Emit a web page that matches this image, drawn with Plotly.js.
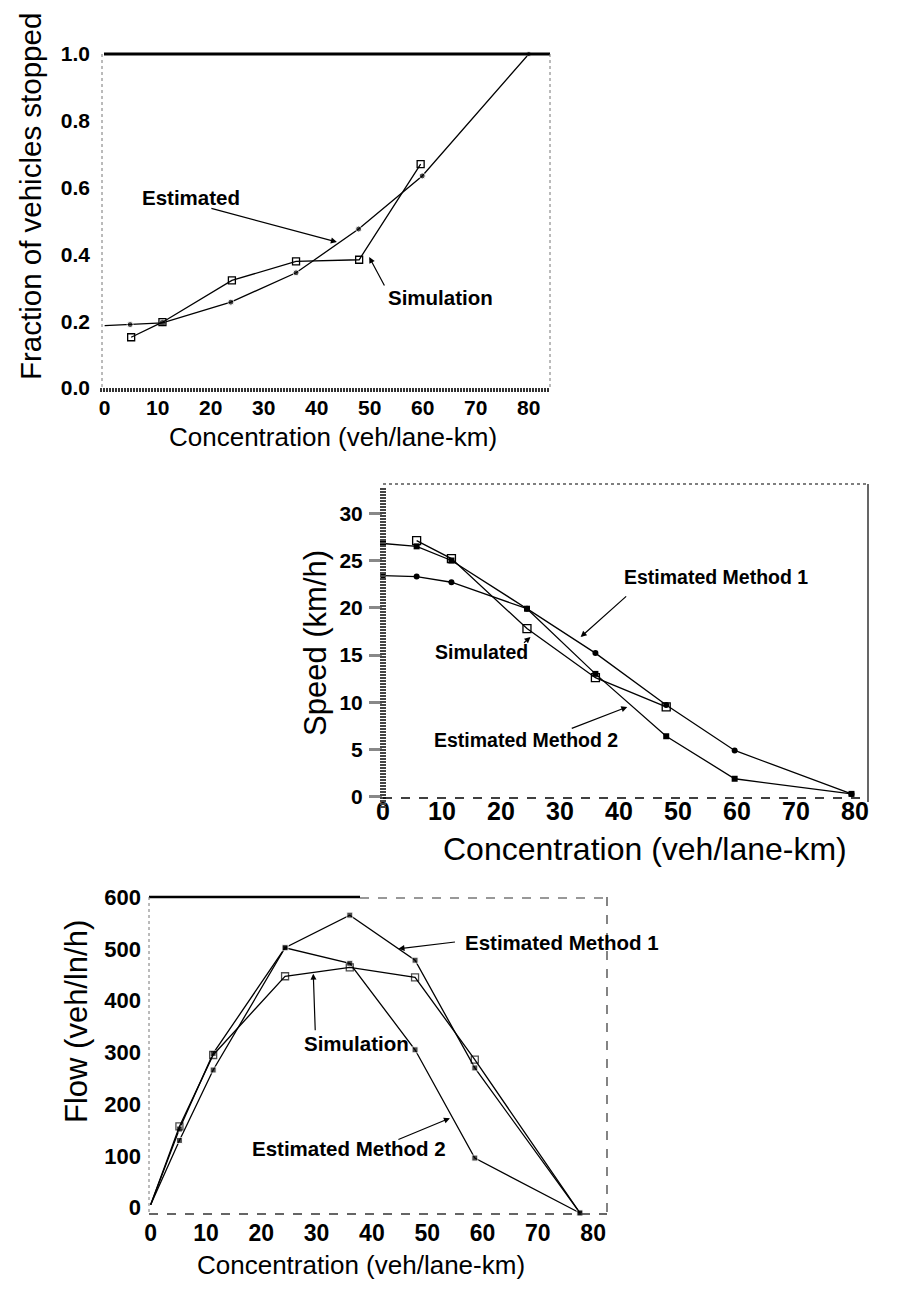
<!DOCTYPE html>
<html><head><meta charset="utf-8">
<script src="https://cdn.plot.ly/plotly-3.0.1.min.js"></script>
<style>html,body{margin:0;padding:0;background:#fff}#chart{width:919px;height:1292px}</style>
</head><body><div id="chart"></div>
<script>
// ---- Chart 1: fraction of vehicles stopped ----
const stopEstX = [0, 4.8, 10.9, 23.8, 36.1, 47.9, 59.9, 80];
const stopEstY = [0.187, 0.19, 0.195, 0.257, 0.345, 0.476, 0.635, 1.0];
const stopSimX = [5.0, 10.9, 24.0, 36.1, 48.0, 59.6];
const stopSimY = [0.152, 0.197, 0.322, 0.379, 0.384, 0.67];
// ---- Chart 2: speed ----
const speedX = [0, 5.7, 11.6, 24.4, 36, 48, 59.6, 79.4];
const speedM1 = [23.4, 23.3, 22.7, 19.9, 15.2, 9.7, 4.9, 0.3];
const speedM2 = [26.8, 26.5, 25.0, 19.9, 13.0, 6.4, 1.9, 0.3];
const speedSimX = [5.7, 11.6, 24.4, 36, 48];
const speedSim = [27.1, 25.2, 17.8, 12.6, 9.5];
// ---- Chart 3: flow ----
const flowX = [0, 5.2, 11.3, 24.3, 36, 47.8, 58.6, 77.6];
const flowM1 = [6, 130, 266, 502, 565, 478, 270, -10];
const flowM2 = [6, 152, 298, 502, 472, 305, 96, -10];
const flowSim = [6, 157, 295, 447, 464, 445, 286, -10];
// ---- ticks / labels ----
const concTicks = [0, 10, 20, 30, 40, 50, 60, 70, 80];
const fracTicks = [0, 0.2, 0.4, 0.6, 0.8, 1.0];
const speedTicks = [0, 5, 10, 15, 20, 25, 30];
const flowTicks = [0, 100, 200, 300, 400, 500, 600];
const xTitle = 'Concentration (veh/lane-km)';
const y1Title = 'Fraction of vehicles stopped';
const y2Title = 'Speed (km/h)';
const y3Title = 'Flow (veh/ln/h)';

const W = 919, H = 1292;
const PX = p => p / W, PY = p => 1 - p / H;
const FONT = 'Liberation Sans, Arial, sans-serif';
const BLK = '#000';

function line(x, y, opts) {
  return Object.assign({type: 'scatter', mode: 'lines+markers', x: x, y: y,
    line: {color: BLK, width: 1.3}, cliponaxis: false, hoverinfo: 'skip'}, opts);
}
const openSq = s => ({symbol: 'square-open', size: s, color: BLK, line: {width: 1.3, color: BLK}});
const fillSq = s => ({symbol: 'square', size: s, color: BLK});
const dot = s => ({symbol: 'circle', size: s, color: BLK});

const data = [
  line(stopEstX, stopEstY, {xaxis: 'x', yaxis: 'y', name: 'Estimated', marker: Object.assign(dot(6), {size: [0,6,7,6,6,6,6,5]})}),
  line(stopSimX, stopSimY, {xaxis: 'x', yaxis: 'y', name: 'Simulation', marker: openSq(7)}),
  line(speedX, speedM1, {xaxis: 'x2', yaxis: 'y2', name: 'Estimated Method 1', marker: dot(6)}),
  line(speedX, speedM2, {xaxis: 'x2', yaxis: 'y2', name: 'Estimated Method 2', marker: fillSq(6)}),
  line(speedSimX, speedSim, {xaxis: 'x2', yaxis: 'y2', name: 'Simulated', marker: openSq(8)}),
  line(flowX, flowM1, {xaxis: 'x3', yaxis: 'y3', name: 'Estimated Method 1', marker: Object.assign(fillSq(6), {size: [0,6,6,6,6,6,6,6]})}),
  line(flowX, flowM2, {xaxis: 'x3', yaxis: 'y3', name: 'Estimated Method 2', marker: Object.assign(fillSq(6), {size: [0,6,6,6,6,6,6,6]})}),
  line(flowX, flowSim, {xaxis: 'x3', yaxis: 'y3', name: 'Simulation', marker: Object.assign(openSq(7), {size: [0,7,7,7,7,7,7,0]})})
];

const baseAx = {showgrid: false, zeroline: false, showline: false, fixedrange: true, tickcolor: BLK};
const tf = s => ({family: FONT, size: s, weight: 'bold', color: BLK});

const layout = {
  width: W, height: H, margin: {l: 0, r: 0, t: 0, b: 0},
  paper_bgcolor: '#fff', plot_bgcolor: 'rgba(0,0,0,0)', showlegend: false,
  font: {family: FONT, color: BLK},
  xaxis: Object.assign({}, baseAx, {domain: [PX(102), PX(550)], range: [-0.5, 84], anchor: 'y',
    tickvals: concTicks, ticks: '', ticklabelstandoff: 3, tickfont: tf(21)}),
  yaxis: Object.assign({}, baseAx, {domain: [PY(390), PY(54)], range: [-0.006, 1.0], anchor: 'x',
    tickvals: fracTicks, tickformat: '.1f', ticks: '', ticklabelstandoff: 11, tickfont: tf(21)}),
  xaxis2: Object.assign({}, baseAx, {domain: [PX(383), PX(868)], range: [0, 82.2], anchor: 'y2',
    tickvals: concTicks, ticks: '', ticklabelstandoff: -8, tickfont: tf(25)}),
  yaxis2: Object.assign({}, baseAx, {domain: [PY(802), PY(484)], range: [-0.56, 33.1], anchor: 'x2',
    tickvals: speedTicks, ticks: 'outside', ticklen: 13, tickwidth: 3, tickcolor: '#888', ticklabelstandoff: 2,
    tickfont: tf(21)}),
  xaxis3: Object.assign({}, baseAx, {domain: [PX(149), PX(607)], range: [-0.3, 82.5], anchor: 'y3',
    tickvals: concTicks, ticks: '', ticklabelstandoff: 3, tickfont: tf(23)}),
  yaxis3: Object.assign({}, baseAx, {domain: [PY(1214), PY(897)], range: [-12, 600], anchor: 'x3',
    tickvals: flowTicks, ticks: '', ticklabelstandoff: 7, tickfont: tf(22)}),
  shapes: [
    // chart 1 frame
    {type: 'line', xref: 'paper', yref: 'paper', x0: PX(104), x1: PX(550), y0: PY(54), y1: PY(54), line: {color: BLK, width: 3}},
    {type: 'line', xref: 'paper', yref: 'paper', x0: PX(102), x1: PX(102), y0: PY(54), y1: PY(390), line: {color: '#777', width: 1, dash: 'dot'}},
    {type: 'line', xref: 'paper', yref: 'paper', x0: PX(550), x1: PX(550), y0: PY(54), y1: PY(390), line: {color: '#777', width: 1, dash: 'dot'}},
    {type: 'line', xref: 'paper', yref: 'paper', x0: PX(100), x1: PX(550), y0: PY(390), y1: PY(390), line: {color: '#333', width: 4, dash: '2px,1px'}},
    // chart 2 frame
    {type: 'line', xref: 'paper', yref: 'paper', x0: PX(383), x1: PX(868), y0: PY(484), y1: PY(484), line: {color: '#555', width: 1.5, dash: 'dot'}},
    {type: 'line', xref: 'paper', yref: 'paper', x0: PX(383), x1: PX(383), y0: PY(488), y1: PY(808), line: {color: '#444', width: 6, dash: '2px,1px'}},
    {type: 'line', xref: 'paper', yref: 'paper', x0: PX(868), x1: PX(868), y0: PY(484), y1: PY(802), line: {color: BLK, width: 1.2}},
    {type: 'line', xref: 'paper', yref: 'paper', x0: PX(383), x1: PX(868), y0: PY(798), y1: PY(798), line: {color: BLK, width: 1.3, dash: 'dash'}},
    // chart 3 frame
    {type: 'line', xref: 'paper', yref: 'paper', x0: PX(149), x1: PX(360), y0: PY(897), y1: PY(897), line: {color: BLK, width: 2.5}},
    {type: 'line', xref: 'paper', yref: 'paper', x0: PX(360), x1: PX(607), y0: PY(898), y1: PY(898), line: {color: '#333', width: 1.2, dash: 'dash'}},
    {type: 'line', xref: 'paper', yref: 'paper', x0: PX(149), x1: PX(149), y0: PY(897), y1: PY(1214), line: {color: '#777', width: 1, dash: 'dot'}},
    {type: 'line', xref: 'paper', yref: 'paper', x0: PX(607), x1: PX(607), y0: PY(897), y1: PY(1214), line: {color: '#333', width: 1.2, dash: 'dash'}},
    {type: 'line', xref: 'paper', yref: 'paper', x0: PX(149), x1: PX(607), y0: PY(1214), y1: PY(1214), line: {color: '#333', width: 1.3, dash: 'dash'}}
  ],
  annotations: []
};

const A = layout.annotations;
function label(xr, yr, x, y, text, size, xanchor) {
  A.push({xref: xr, yref: yr, x: x, y: y, text: text, showarrow: false, xanchor: xanchor || 'center', yanchor: 'middle',
    font: {family: FONT, size: size, weight: 'bold', color: BLK}});
}
function arrow(xr, yr, x, y, ax, ay) {
  A.push({xref: xr, yref: yr, x: x, y: y, ax: ax, ay: ay, text: '', showarrow: true,
    arrowhead: 2, arrowsize: 1, arrowwidth: 1.2, arrowcolor: BLK, standoff: 0, startstandoff: 0});
}
// chart 1 labels
label('x', 'y', 16.3, 0.569, 'Estimated', 20.5);
arrow('x', 'y', 43.8, 0.437, -127, -34);
label('x', 'y', 63.3, 0.272, 'Simulation', 20.5);
arrow('x', 'y', 49.9, 0.392, 16, 30);
// chart 2 labels
label('x2', 'y2', 56.5, 23.3, 'Estimated Method 1', 19.5);
arrow('x2', 'y2', 33.5, 16.9, 47, -42);
label('x2', 'y2', 16.7, 15.35, 'Simulated', 19.5);
arrow('x2', 'y2', 25, 16.9, -8, 7);
label('x2', 'y2', 24.3, 6.0, 'Estimated Method 2', 19.5);
arrow('x2', 'y2', 41.4, 9.5, -57, 22);
// chart 3 labels
label('x3', 'y3', 56.4, 513, 'Estimated Method 1', 20.5, 'left');
arrow('x3', 'y3', 44.8, 500, 58, -7);
label('x3', 'y3', 37.2, 318, 'Simulation', 20.5);
arrow('x3', 'y3', 29.4, 452, 2, 58);
label('x3', 'y3', 35.9, 115, 'Estimated Method 2', 20.5);
arrow('x3', 'y3', 54.1, 173, -53, 22);
// axis titles
function title(px, py, text, size, rot) {
  A.push({xref: 'paper', yref: 'paper', x: PX(px), y: PY(py), text: text, showarrow: false,
    xanchor: 'center', yanchor: 'middle', textangle: rot || 0, font: {family: FONT, size: size, color: BLK}});
}
title(31, 197, y1Title, 29.5, -90);
title(333, 437, xTitle, 26);
title(315, 643, y2Title, 31, -90);
title(645, 849, xTitle, 32);
title(76, 1022, y3Title, 31, -90);
title(361, 1265, xTitle, 26);

Plotly.newPlot('chart', data, layout, {displayModeBar: false, staticPlot: true});
</script>
</body></html>
